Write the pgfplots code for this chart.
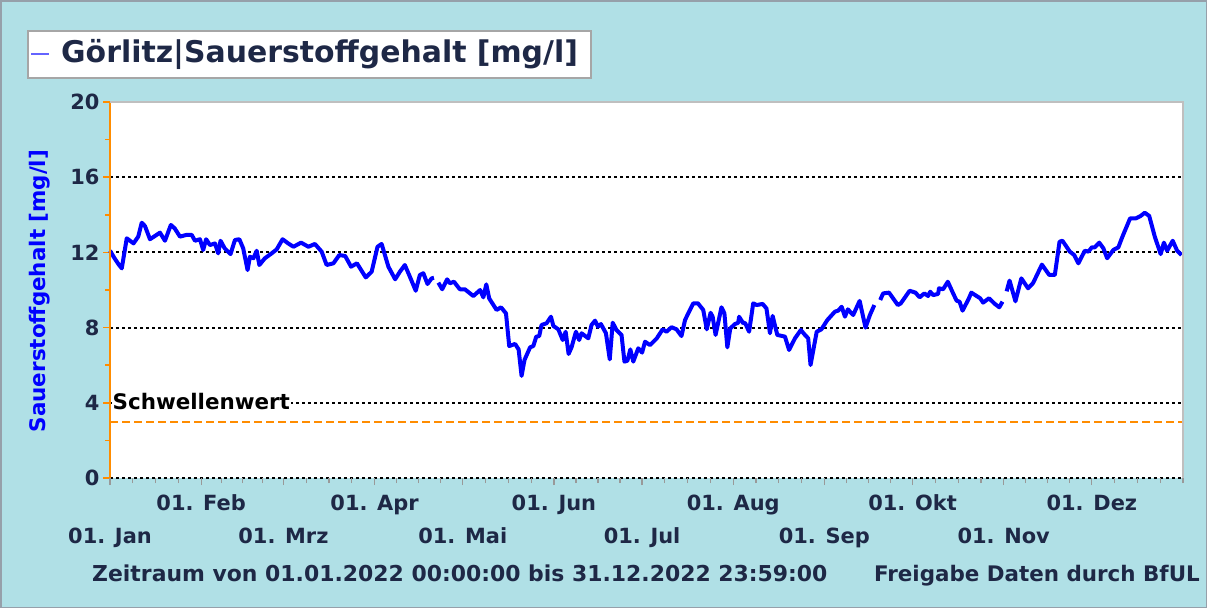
\documentclass[border=0pt]{standalone}
\usepackage{pgfplots}
\pgfplotsset{compat=1.18}
\usepackage{fontspec}
\setmainfont{DejaVu Sans}
\definecolor{bgblue}{RGB}{176,224,230}
\definecolor{navy}{RGB}{30,40,70}
\definecolor{thr}{RGB}{255,140,0}
\definecolor{framec}{RGB}{150,160,170}
\definecolor{legblue}{RGB}{100,100,255}

\pgfplotstableread{
day val
0 12.09
1.5 11.7
3 11.35
4 11.15
5.7 12.75
8 12.48
9.6 12.84
10.8 13.58
11.9 13.4
13.6 12.7
17 13.05
18.7 12.62
20.7 13.46
22 13.28
23.8 12.84
26 12.93
27.8 12.93
28.9 12.62
30.6 12.7
31.7 12.13
32.7 12.7
34 12.39
35.7 12.48
36.8 11.95
37.6 12.62
39 12.22
41 11.91
42.5 12.66
44 12.7
45.3 12.22
46.8 11.06
47.6 11.77
48.8 11.69
49.9 12.09
50.8 11.33
52.7 11.69
55 11.95
56.7 12.16
58.7 12.7
60.6 12.48
62.4 12.3
65 12.52
67.5 12.3
69.7 12.45
72 12.04
73.7 11.33
76 11.42
78 11.86
80 11.81
82 11.24
84 11.42
87 10.67
89 10.97
91 12.3
92.4 12.45
94.7 11.24
97 10.57
98.6 10.97
100.3 11.33
102 10.71
104 9.96
105.4 10.8
106.6 10.89
108 10.32
109.4 10.62
110.2 10.65
110.9 nan
111.7 10.39
113 10.04
114.7 10.57
115.6 10.36
117 10.44
119 10.04
120.7 10.04
123.6 9.68
125.9 10.0
127 9.61
128 10.3
129 9.55
131.5 8.94
133 9.08
134.7 8.76
135.8 7.02
137.8 7.13
139 6.84
140 5.43
141 6.28
142.9 6.95
144 7.02
145 7.52
146 7.55
146.8 8.14
148.5 8.23
150 8.58
150.8 8.09
152.5 7.91
154 7.34
155 7.78
156 6.6
157 6.95
158.5 7.78
159.6 7.34
160.4 7.7
162.7 7.43
163.8 8.14
165 8.37
166 8.05
167 8.19
168.7 7.7
170 6.31
171 8.26
172.3 7.87
174 7.61
175 6.19
176 6.24
177 6.84
178 6.19
179.7 6.9
181 6.67
182 7.25
183.7 7.07
186 7.43
188 7.91
189.3 7.78
191 8.02
192.7 7.91
194.4 7.55
195.6 8.4
196.7 8.76
198.4 9.29
200 9.29
201.8 8.94
203 7.91
204.3 8.79
205 8.58
206 7.61
208 9.08
209 8.76
210 6.95
211 7.96
212.6 8.19
213.7 8.26
214 8.58
215.4 8.23
216 8.26
217.4 7.78
218.8 9.29
220 9.2
222 9.26
223.3 9.02
224.5 7.7
225.4 8.62
227 7.61
229.6 7.52
231 6.81
233 7.43
235 7.87
236.4 7.61
237.5 7.43
238.3 6.01
240.4 7.78
242 7.91
244 8.4
246.6 8.85
247.7 8.9
248.9 9.11
250 8.58
251 8.97
252.8 8.67
255 9.42
257 8.0
258.5 8.67
260 9.2
261 nan
262 9.47
263 9.82
265 9.86
268 9.2
269 9.29
272 9.96
274 9.86
275.4 9.61
277 9.82
278.3 9.68
279 9.91
280 9.73
281.7 9.79
282 10.09
283.4 10.04
285 10.44
286.8 9.82
288 9.43
289 9.38
290 8.9
292 9.5
293 9.86
294.8 9.68
296 9.56
297 9.33
299 9.56
301 9.26
302.5 9.08
303.6 9.38
304.3 nan
305 9.93
306 10.5
308 9.4
310 10.62
312.3 10.09
314 10.37
317 11.35
319.5 10.8
321.4 10.8
323 12.57
324 12.62
326.5 12.04
328 11.86
329.4 11.42
331.6 12.09
332.8 12.04
334 12.27
335 12.27
336.5 12.52
337.9 12.22
339.2 11.69
341.3 12.13
343 12.27
344.4 12.84
347 13.81
349 13.81
350.6 13.94
352 14.11
353.5 13.94
355.4 12.84
357.4 11.91
358.5 12.52
359.6 12.09
361.5 12.62
363 12.09
364.5 11.86
}\oxygen

\pgfplotstableread{
day val
0 3
365 3
}\threshold

\begin{document}
\begin{tikzpicture}
\fill[bgblue] (0,0) rectangle (1207bp,-608bp);
\draw[framec, line width=1.5bp] (0.75bp,-0.75bp) rectangle (1206.25bp,-607.25bp);
% title box
\draw[fill=white, draw=gray!70, line width=1.2bp] (28bp,-31bp) rectangle (591bp,-78bp);
\draw[legblue, line width=1.5bp] (31bp,-54bp) -- (49bp,-54bp);
\node[anchor=west, font=\fontsize{30}{36}\selectfont\bfseries, text=navy, inner sep=0] at (61bp,-54bp) {Görlitz|Sauerstoffgehalt [mg/l]};

\begin{axis}[
  at={(110bp,-478bp)}, anchor=south west,
  scale only axis, width=1073bp, height=376bp,
  xmin=0, xmax=365, ymin=0, ymax=20,
  axis background/.style={fill=white},
  axis line style={draw=none},
  tick pos=left, tick align=outside,
  unbounded coords=jump,
  ytick={0,4,8,12,16}, yticklabels={0,4,8,12,16},
  extra y ticks={20}, extra y tick labels={20},
  extra y tick style={grid=none},
  minor ytick={2,6,10,14,18},
  ymajorgrids,
  major grid style={black, line width=2bp, dash pattern=on 2.5bp off 3.5bp},
  every y tick/.style={thr, line width=1.5bp},
  every x tick/.style={gray!80, line width=1.2bp},
  major tick length=7bp, minor tick length=5bp,
  xtick={31,90,151,212,273,334},
  xticklabels={01. Feb, 01. Apr, 01. Jun, 01. Aug, 01. Okt, 01. Dez},
  xticklabel style={yshift=-6bp},
  extra x ticks={0,59,120,181,243,304},
  extra x tick labels={01. Jan, 01. Mrz, 01. Mai, 01. Jul, 01. Sep, 01. Nov},
  extra x tick style={xticklabel style={yshift=-33bp}},
  minor xtick={7.75,15.5,23.25,38,45,52,66.75,74.5,82.25,97.5,105,112.5,127.75,135.5,143.25,158.5,166,173.5,188.75,196.5,204.25,219.75,227.5,235.25,250.5,258,265.5,280.75,288.5,296.25,311.5,319,326.5,341.75,349.5,357.25,365},
  ticklabel style={font=\fontsize{21}{25}\selectfont\bfseries, text=navy},
  clip=false,
]
\addplot[thr, line width=2bp, dash pattern=on 8bp off 4bp] table[x=day,y=val] {\threshold};
\addplot[blue, line width=4bp, line join=round] table[x=day,y=val] {\oxygen};
\node[anchor=west, fill=white, inner xsep=1bp, inner ysep=0bp, font=\fontsize{21.5}{25}\selectfont\bfseries, text=black] at (axis cs:0.5,4.05) {Schwellenwert};
\draw[thr, line width=2bp] (rel axis cs:0,0) -- (rel axis cs:0,1);
\draw[gray!50, line width=1.5bp] (rel axis cs:0,1) -- (rel axis cs:1,1) -- (rel axis cs:1,0);
\end{axis}

\node[rotate=90, font=\fontsize{21.5}{25}\selectfont\bfseries, text=blue] at (40bp,-291bp) {Sauerstoffgehalt [mg/l]};
\node[anchor=base west, font=\fontsize{22}{26}\selectfont\bfseries, text=navy, inner sep=0] at (92bp,-581bp) {Zeitraum von 01.01.2022 00:00:00 bis 31.12.2022 23:59:00};
\node[anchor=base east, font=\fontsize{21.5}{25}\selectfont\bfseries, text=navy, inner sep=0] at (1200bp,-581bp) {Freigabe Daten durch BfUL};
\pgfresetboundingbox
\path (0,0) rectangle (1207bp,-608bp);
\end{tikzpicture}
\end{document}
